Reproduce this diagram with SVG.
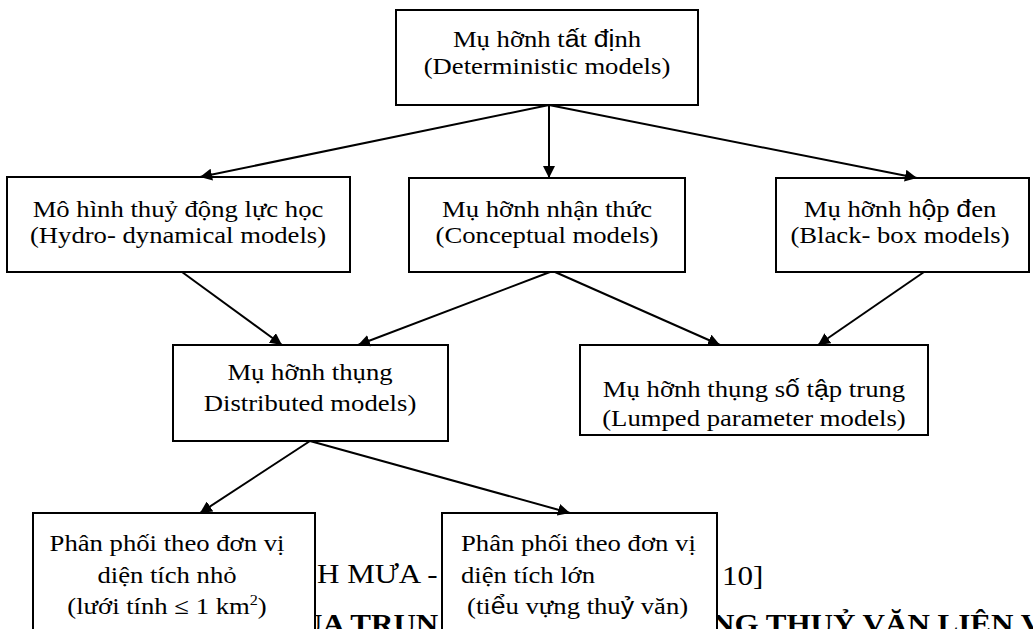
<svg xmlns="http://www.w3.org/2000/svg" width="1033" height="629" viewBox="0 0 1033 629">
<style>
.box{fill:#fff;stroke:#000;stroke-width:2}
.t{font-family:"Liberation Serif","Times New Roman",serif;font-size:23px;fill:#000}
.s{font-family:"Liberation Sans",Arial,sans-serif}
.bg{font-family:"Liberation Serif","Times New Roman",serif;font-size:27px;fill:#000}
.bgb{font-family:"Liberation Serif","Times New Roman",serif;font-size:27px;font-weight:bold;fill:#000}
.conn line{stroke:#000;stroke-width:2;marker-end:url(#ah)}
</style>
<defs>
<marker id="ah" viewBox="0 0 10 10" refX="10" refY="5" markerWidth="6" markerHeight="6" markerUnits="strokeWidth" orient="auto"><path d="M0,0 L10,5 L0,10 z" fill="#000"/></marker>
</defs>
<rect width="1033" height="629" fill="#fff"/>
<g id="background-text">
<text class="bg" transform="translate(317,583) scale(1.15,1)">H MƯA -</text>
<text class="bg" transform="translate(722,585) scale(1.15,1)">10]</text>
<text class="bgb" transform="translate(300,633) scale(1.15,1)">ỦA TRUN</text>
<text class="bgb" transform="translate(712,633) scale(1.15,1)">NG THUỶ VĂN LIÊN V</text>
</g>
<g id="n-deterministic">
<rect class="box" x="396" y="10" width="302" height="95"/>
<text class="t" text-anchor="middle" transform="translate(547,47) scale(1.16,1)">Mụ hỡnh t<tspan class="s">ấ</tspan>t <tspan class="s">đị</tspan>nh</text>
<text class="t" text-anchor="middle" transform="translate(547,74) scale(1.16,1)">(Deterministic models)</text>
</g>
<g id="n-hydro">
<rect class="box" x="7" y="177" width="343" height="95"/>
<text class="t" text-anchor="middle" transform="translate(178,217) scale(1.16,1)">Mô hình thuỷ động lực học</text>
<text class="t" text-anchor="middle" transform="translate(178,243) scale(1.16,1)">(Hydro- dynamical models)</text>
</g>
<g id="n-conceptual">
<rect class="box" x="409" y="178" width="276" height="94"/>
<text class="t" text-anchor="middle" transform="translate(547,217) scale(1.16,1)">Mụ hỡnh nhận thức</text>
<text class="t" text-anchor="middle" transform="translate(547,243) scale(1.16,1)">(Conceptual models)</text>
</g>
<g id="n-blackbox">
<rect class="box" x="776" y="178" width="253" height="94"/>
<text class="t" text-anchor="middle" transform="translate(900,217) scale(1.16,1)">Mụ hỡnh h<tspan class="s">ộ</tspan>p <tspan class="s">đ</tspan>en</text>
<text class="t" text-anchor="middle" transform="translate(900,243) scale(1.16,1)">(Black- box models)</text>
</g>
<g id="n-distributed">
<rect class="box" x="173" y="345" width="275" height="96"/>
<text class="t" text-anchor="middle" transform="translate(310,380) scale(1.16,1)">Mụ hỡnh thụng</text>
<text class="t" text-anchor="middle" transform="translate(310,411) scale(1.16,1)">Distributed models)</text>
</g>
<g id="n-lumped">
<rect class="box" x="580" y="345" width="348" height="90"/>
<text class="t" text-anchor="middle" transform="translate(754,397) scale(1.16,1)">Mụ hỡnh thụng s<tspan class="s">ố</tspan> t<tspan class="s">ậ</tspan>p trung</text>
<text class="t" text-anchor="middle" transform="translate(754,426) scale(1.16,1)">(Lumped parameter models)</text>
</g>
<g id="n-small">
<rect class="box" x="33" y="513" width="282" height="130"/>
<text class="t" text-anchor="middle" transform="translate(167,551) scale(1.16,1)">Phân phối theo đơn vị</text>
<text class="t" text-anchor="middle" transform="translate(167,583) scale(1.16,1)">diện tích nhỏ</text>
<text class="t" text-anchor="middle" transform="translate(167,614) scale(1.16,1)">(lưới tính ≤ 1 km<tspan font-size="14" dy="-9">2</tspan><tspan dy="9">)</tspan></text>
</g>
<g id="n-large">
<rect class="box" x="442" y="513" width="275" height="130"/>
<text class="t" transform="translate(461,551) scale(1.16,1)">Phân phối theo đơn vị</text>
<text class="t" transform="translate(461,583) scale(1.16,1)">diện tích lớn</text>
<text class="t" transform="translate(467,614) scale(1.16,1)">(ti<tspan class="s">ể</tspan>u vựng thu<tspan class="s">ỷ</tspan> văn)</text>
</g>
<g id="connectors" class="conn">
<line x1="549" y1="105" x2="549" y2="178"/>
<line x1="549" y1="105" x2="200" y2="177"/>
<line x1="549" y1="105" x2="917" y2="178"/>
<line x1="182" y1="272" x2="282" y2="345"/>
<line x1="550" y1="272" x2="358" y2="345"/>
<line x1="555" y1="272" x2="720" y2="345"/>
<line x1="924" y1="272" x2="818" y2="345"/>
<line x1="310" y1="441" x2="200" y2="513"/>
<line x1="310" y1="441" x2="570" y2="513"/>
</g>
</svg>
